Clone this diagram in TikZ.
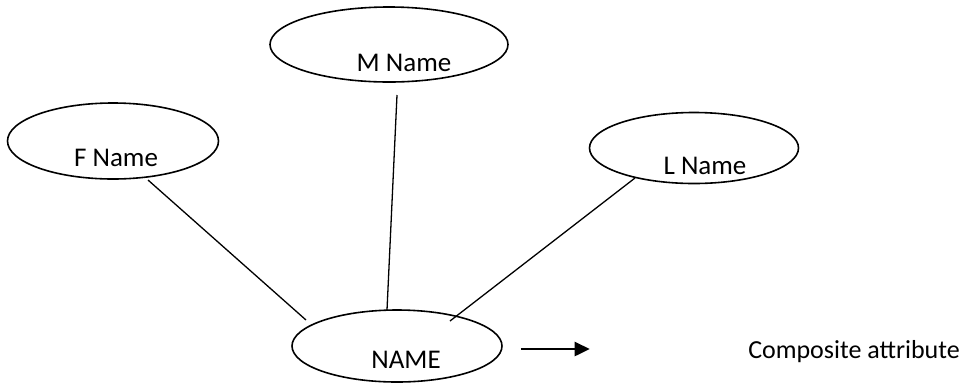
\documentclass[tikz,border=0pt]{standalone}
\usepackage{fontspec}
\setmainfont{Carlito}
\usetikzlibrary{shapes.geometric,arrows.meta,calc}
\tikzset{
  attr/.style={draw=black, line width=1.6pt, ellipse, inner sep=0pt},
  lbl/.style={font=\fontsize{27}{32}\selectfont},
  conn/.style={draw=black, line width=1.3pt},
  bigarrow/.style={draw=black, line width=2.6pt, -{Triangle[length=15pt,width=14pt]}}
}
\begin{document}
\begin{tikzpicture}[x=1pt,y=-1pt]
\useasboundingbox (0,0) rectangle (966,384);
\node[attr, minimum width=211pt, minimum height=76pt,
      label={[lbl, xshift=3pt, yshift=-17pt]center:F Name}] (fname) at (113,141) {};
\node[attr, minimum width=238pt, minimum height=75pt,
      label={[lbl, xshift=15pt, yshift=-18pt]center:M Name}] (mname) at (389,44.5) {};
\node[attr, minimum width=209pt, minimum height=71pt,
      label={[lbl, xshift=11pt, yshift=-18pt]center:L Name}] (lname) at (694,148) {};
\node[attr, minimum width=210pt, minimum height=72pt,
      label={[lbl, xshift=9pt, yshift=-14pt]center:NAME}] (name) at (397,346) {};
\node[font=\fontsize{26}{31}\selectfont, anchor=center] (comp) at (854,352) {Composite attribute};
\draw[conn] ($(fname.center)+(35,39)$) -- ($(name.center)+(-91,-26)$);
\draw[conn] ($(mname.center)+(8,50.5)$) -- ($(name.center)+(-10,-36)$);
\draw[conn] ($(lname.center)+(-59,30)$) -- ($(name.center)+(53,-25)$);
\draw[bigarrow] ($(name.east)+(18,3)$) -- ($(comp.west)+(-155,-3)$);
\end{tikzpicture}
\end{document}
